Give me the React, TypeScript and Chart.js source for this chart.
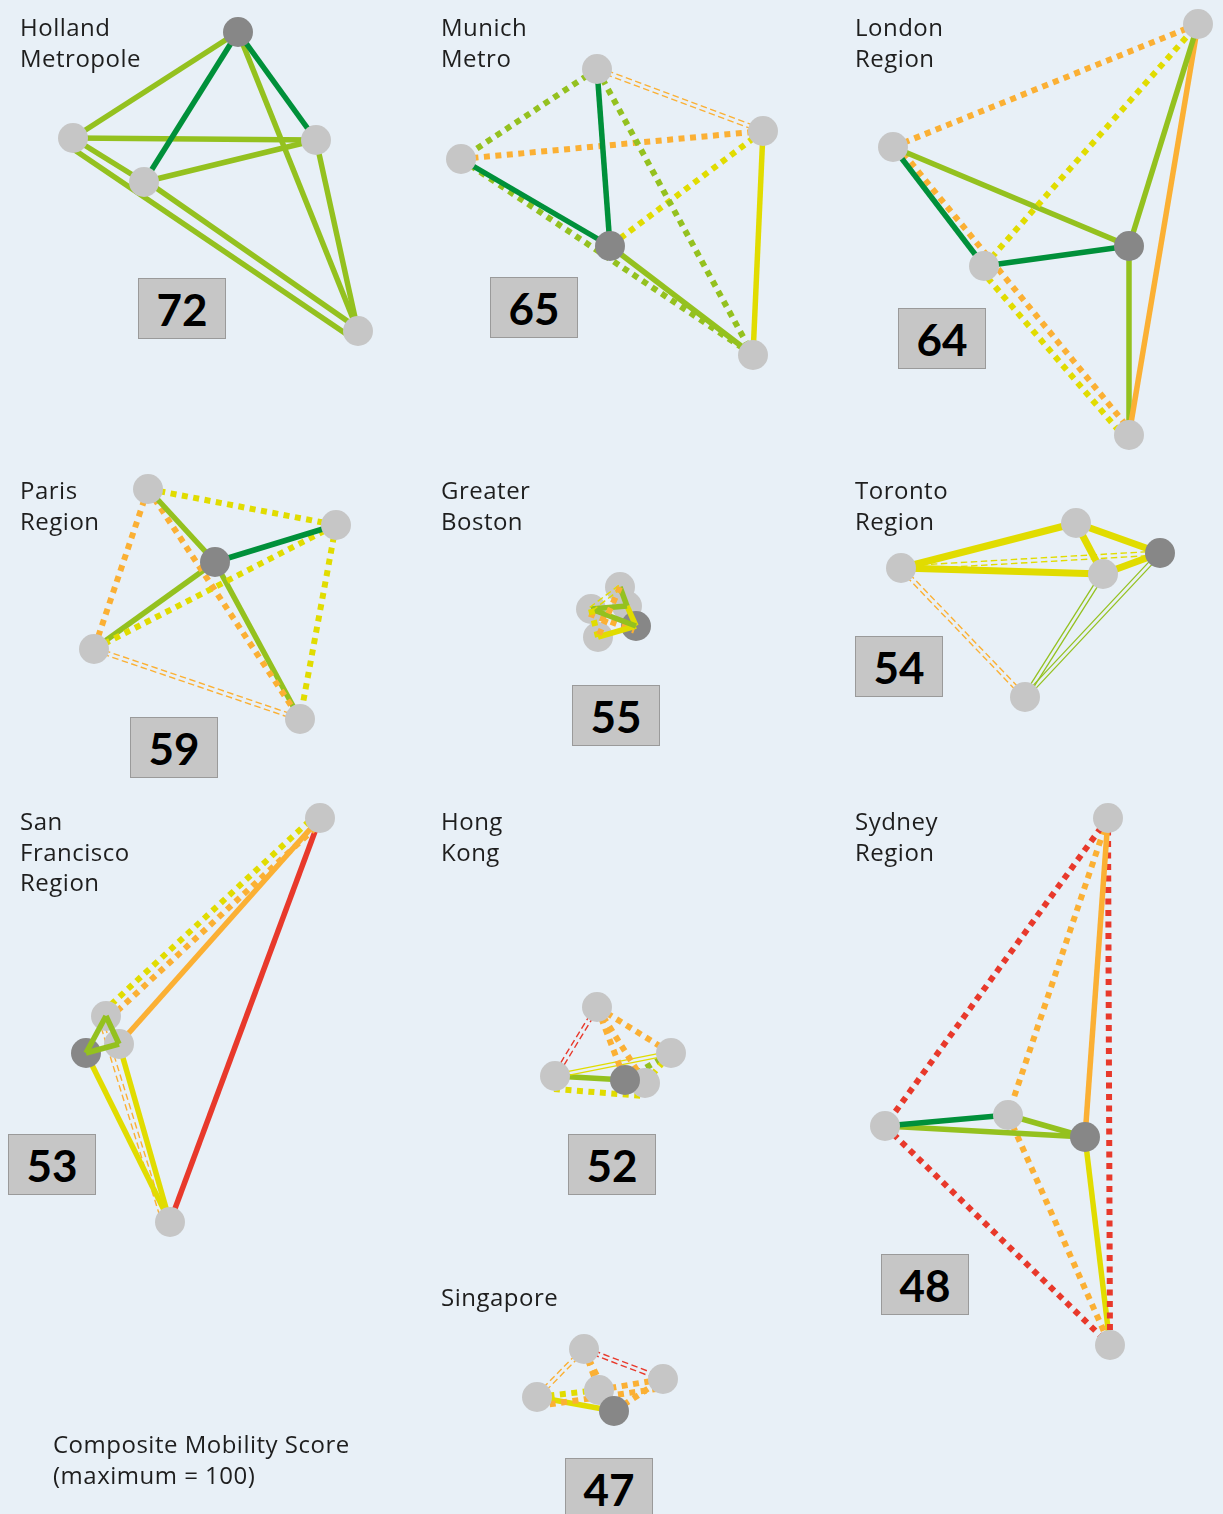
import React, { useEffect, useRef } from "react";
import { Chart, registerables } from "chart.js";
Chart.register(...registerables);

const W = 1223;
const H = 1514;

type Pt = [number, number];
// [from, to, level, mode, offset?, drawnOverNodes?]
type Edge = [number, number, string, string, number?, boolean?];

// Node 0 of each city is the hub (dark node)
const hollandNodes: Pt[] = [[238, 32], [73, 138], [316, 140], [144, 182], [358, 331]];
const hollandEdges: Edge[] = [
  [0, 1, "lg", "s"], [0, 3, "dg", "s"], [0, 2, "dg", "s"], [0, 4, "lg", "s"],
  [1, 2, "lg", "s"], [3, 2, "lg", "s"], [1, 3, "lg", "s"], [1, 4, "lg", "s", 9],
  [3, 4, "lg", "s", -2], [2, 4, "lg", "s"],
];

const munichNodes: Pt[] = [[610, 246], [597, 69], [461, 159], [763, 131], [753, 355]];
const munichEdges: Edge[] = [
  [1, 2, "lg", "d"], [1, 0, "dg", "s"], [1, 4, "lg", "d"], [1, 3, "o", "w"],
  [2, 3, "o", "d"], [2, 0, "dg", "s"], [2, 4, "lg", "d"], [3, 0, "y", "d"],
  [3, 4, "y", "s"], [0, 4, "lg", "s"],
];

const londonNodes: Pt[] = [[1129, 246], [1198, 24], [893, 147], [984, 266], [1129, 435]];
const londonEdges: Edge[] = [
  [2, 1, "o", "d"], [3, 1, "y", "d"], [0, 1, "lg", "s"], [4, 1, "o", "s"],
  [2, 0, "lg", "s"], [2, 3, "dg", "s"], [2, 4, "o", "d", -4], [3, 4, "y", "d", 5],
  [3, 0, "dg", "s"], [0, 4, "lg", "s"],
];

const parisNodes: Pt[] = [[215, 562], [148, 489], [336, 525], [94, 649], [300, 719]];
const parisEdges: Edge[] = [
  [1, 2, "y", "d"], [1, 3, "o", "d"], [1, 0, "lg", "s"], [1, 4, "o", "d"],
  [0, 2, "dg", "s"], [3, 2, "y", "d"], [0, 3, "lg", "s"], [0, 4, "lg", "s"],
  [2, 4, "y", "d"], [3, 4, "o", "w"],
];

const bostonNodes: Pt[] = [[636, 626], [620, 587], [591, 609], [627, 606], [598, 637]];
const bostonEdges: Edge[] = [
  [1, 4, "o", "d", 0, true], [2, 4, "y", "d", 0, true], [1, 2, "y", "w", 0, true],
  [1, 3, "lg", "s", 0, true], [2, 3, "lg", "s", 0, true], [2, 0, "lg", "s", 0, true],
  [3, 0, "y", "s", 0, true], [4, 0, "y", "s", 0, true], [2, 0, "o", "d", 5, true],
];

const torontoNodes: Pt[] = [[1160, 553], [901, 568], [1076, 523], [1103, 574], [1025, 697]];
const torontoEdges: Edge[] = [
  [1, 2, "y", "S"], [1, 3, "y", "S"], [2, 3, "y", "S"], [2, 0, "y", "S"],
  [3, 0, "y", "S"], [1, 0, "y", "w"], [1, 4, "o", "w"], [3, 4, "lg", "t"],
  [0, 4, "lg", "t"],
];

const sfNodes: Pt[] = [[86, 1053], [320, 818], [106, 1016], [119, 1044], [170, 1222]];
const sfEdges: Edge[] = [
  [2, 1, "y", "d", -5], [2, 1, "o", "d", 4], [3, 1, "o", "s"], [4, 1, "r", "s"],
  [0, 4, "y", "s"], [3, 4, "y", "s"], [2, 4, "o", "w", 6],
  [0, 2, "lg", "s", 0, true], [2, 3, "lg", "s", 0, true], [0, 3, "lg", "s", 0, true],
];

const hkNodes: Pt[] = [[625, 1080], [597, 1007], [671, 1053], [555, 1076], [645, 1083]];
const hkEdges: Edge[] = [
  [1, 3, "r", "w"], [1, 2, "o", "d"], [1, 0, "o", "d"], [1, 4, "o", "d"],
  [3, 2, "y", "t"], [3, 0, "lg", "s"], [3, 4, "y", "d", 13], [2, 4, "y", "d"],
  [2, 0, "lg", "d"],
];

const sydneyNodes: Pt[] = [[1085, 1137], [1108, 818], [885, 1126], [1008, 1115], [1110, 1345]];
const sydneyEdges: Edge[] = [
  [1, 2, "r", "d"], [1, 3, "o", "d"], [1, 0, "o", "s"], [1, 4, "r", "d"],
  [2, 3, "dg", "s"], [2, 0, "lg", "s"], [3, 0, "lg", "s"], [2, 4, "r", "d"],
  [3, 4, "o", "d"], [0, 4, "y", "s"],
];

const singaporeNodes: Pt[] = [[614, 1411], [584, 1349], [537, 1397], [663, 1379], [599, 1390]];
const singaporeEdges: Edge[] = [
  [1, 3, "r", "w"], [1, 2, "o", "w"], [1, 4, "o", "d"], [1, 0, "o", "d"],
  [2, 4, "y", "d"], [2, 3, "o", "d", 9], [4, 3, "o", "d"], [2, 0, "y", "s"],
  [0, 3, "o", "d"],
];

const cityNames = [
  "Holland\nMetropole", "Munich\nMetro", "London\nRegion",
  "Paris\nRegion", "Greater\nBoston", "Toronto\nRegion",
  "San\nFrancisco\nRegion", "Hong\nKong", "Sydney\nRegion", "Singapore",
];
const scores = [72, 65, 64, 59, 55, 54, 53, 52, 48, 47];
const nodeSets = [hollandNodes, munichNodes, londonNodes, parisNodes, bostonNodes,
  torontoNodes, sfNodes, hkNodes, sydneyNodes, singaporeNodes];
const edgeSets = [hollandEdges, munichEdges, londonEdges, parisEdges, bostonEdges,
  torontoEdges, sfEdges, hkEdges, sydneyEdges, singaporeEdges];
const footnote = "Composite Mobility Score\n(maximum = 100)";

// Layout (pixel placement of labels/boxes)
const titlePos: Pt[] = [[20, 12], [441, 12], [855, 12], [20, 475], [441, 475], [855, 475],
  [20, 806], [441, 806], [855, 806], [441, 1282]];
const boxPos: Pt[] = [[138, 278], [490, 277], [898, 308], [130, 717], [572, 685], [855, 636],
  [8, 1134], [568, 1134], [881, 1254], [565, 1458]];

const COLORS: Record<string, string> = {
  dg: "#00903A", lg: "#94C11F", y: "#E1DC00", o: "#FBB034", r: "#E8392B",
};
const BG = "#E8F0F7";

function buildDatasets() {
  const ds: any[] = [];
  nodeSets.forEach((nodes, p) => {
    edgeSets[p].forEach(([a, b, c, m, off = 0, over = false]) => {
      const [ax, ay] = nodes[a];
      const [bx, by] = nodes[b];
      const dx = bx - ax, dy = by - ay;
      const len = Math.hypot(dx, dy) || 1;
      const nx = -dy / len, ny = dx / len;
      const line = (o: number, width: number, dash: number[]) =>
        ds.push({
          type: "scatter",
          showLine: true,
          data: [{ x: ax + nx * o, y: ay + ny * o }, { x: bx + nx * o, y: by + ny * o }],
          borderColor: COLORS[c],
          backgroundColor: COLORS[c],
          borderWidth: width,
          borderDash: dash,
          pointRadius: 0,
          pointHoverRadius: 0,
          order: over ? 0 : 3,
          clip: false,
        });
      if (m === "s") line(off, 5.5, []);
      else if (m === "S") line(off, 7, []);
      else if (m === "d") line(off, 6, [6, 5.5]);
      else if (m === "w") { line(off - 2, 1.4, [6.5, 3.5]); line(off + 2, 1.4, [6.5, 3.5]); }
      else if (m === "t") { line(off - 2, 1.3, []); line(off + 2, 1.3, []); }
    });
  });
  const light: any[] = [];
  const hubs: any[] = [];
  nodeSets.forEach((nodes) =>
    nodes.forEach(([x, y], i) => (i === 0 ? hubs : light).push({ x, y }))
  );
  ds.push({ type: "scatter", data: light, pointRadius: 15, pointHoverRadius: 15,
    pointBackgroundColor: "#C6C6C6", pointBorderWidth: 0, showLine: false, order: 2, clip: false });
  ds.push({ type: "scatter", data: hubs, pointRadius: 15, pointHoverRadius: 15,
    pointBackgroundColor: "#878787", pointBorderWidth: 0, showLine: false, order: 1, clip: false });
  return ds;
}

export default function App() {
  const ref = useRef<HTMLCanvasElement | null>(null);
  useEffect(() => {
    document.body.style.margin = "0";
    if (!ref.current) return;
    const chart = new Chart(ref.current, {
      type: "scatter",
      data: { datasets: buildDatasets() },
      options: {
        animation: false,
        responsive: false,
        events: [],
        layout: { padding: 0, autoPadding: false },
        plugins: { legend: { display: false }, tooltip: { enabled: false } },
        scales: {
          x: { type: "linear", min: 0, max: W, display: false },
          y: { type: "linear", min: 0, max: H, reverse: true, display: false },
        },
      } as any,
    });
    return () => chart.destroy();
  }, []);

  const font = "'Open Sans', 'Noto Sans', sans-serif";
  const numFont = "Lato, 'Noto Sans', sans-serif";
  const textStyle = { position: "absolute" as const, fontSize: 24, letterSpacing: 0.5, lineHeight: "30.5px", color: "#1E1E1E", whiteSpace: "pre" as const };
  return (
    <div style={{ position: "absolute", left: 0, top: 0, width: W, height: H, background: BG, overflow: "hidden", fontFamily: font }}>
      <canvas ref={ref} width={W} height={H} style={{ position: "absolute", left: 0, top: 0 }} />
      {cityNames.map((t, i) => (
        <div key={"t" + i} style={{ ...textStyle, left: titlePos[i][0], top: titlePos[i][1] }}>{t}</div>
      ))}
      {scores.map((s, i) => (
        <div key={"b" + i} style={{ position: "absolute", left: boxPos[i][0], top: boxPos[i][1], width: 88, height: 61, boxSizing: "border-box", background: "#C6C6C6", border: "1px solid #9A9A9A", display: "flex", alignItems: "center", justifyContent: "center", fontFamily: numFont, fontSize: 44, fontWeight: 700, color: "#000" }}>{s}</div>
      ))}
      <div style={{ ...textStyle, left: 53, top: 1429 }}>{footnote}</div>
    </div>
  );
}
